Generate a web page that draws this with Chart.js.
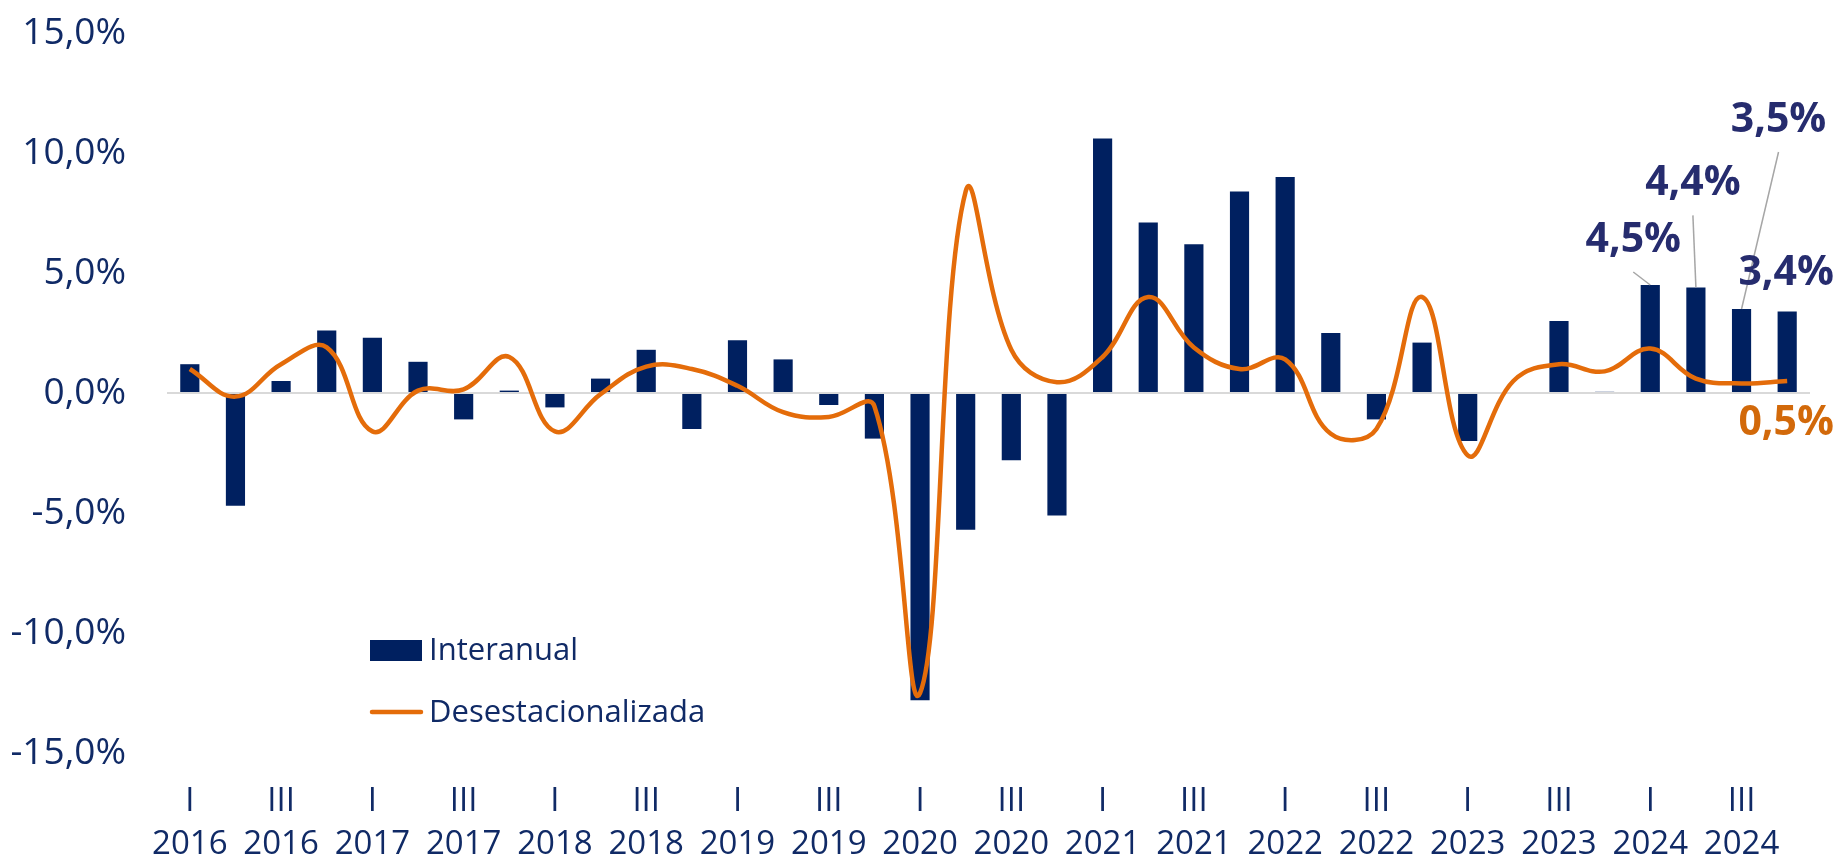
<!DOCTYPE html>
<html>
<head>
<meta charset="utf-8">
<script src="https://cdn.jsdelivr.net/npm/chart.js@4.4.1/dist/chart.umd.min.js"></script>
<style>
  html, body { margin: 0; padding: 0; background: #ffffff; }
  #wrap { width: 1841px; height: 864px; position: relative; }
</style>
</head>
<body>
<div id="wrap"><canvas id="chart_pib"></canvas></div>
<script>
// categories: quarters 2016 I .. 2024 IV
const categories = [
  "I 2016", "II 2016", "III 2016", "IV 2016",
  "I 2017", "II 2017", "III 2017", "IV 2017",
  "I 2018", "II 2018", "III 2018", "IV 2018",
  "I 2019", "II 2019", "III 2019", "IV 2019",
  "I 2020", "II 2020", "III 2020", "IV 2020",
  "I 2021", "II 2021", "III 2021", "IV 2021",
  "I 2022", "II 2022", "III 2022", "IV 2022",
  "I 2023", "II 2023", "III 2023", "IV 2023",
  "I 2024", "II 2024", "III 2024", "IV 2024",
];

// variación interanual (%)
const interanual = [
  1.2, -4.7, 0.5, 2.6,
  2.3, 1.3, -1.1, 0.1,
  -0.6, 0.6, 1.8, -1.5,
  2.2, 1.4, -0.5, -1.9,
  -12.8, -5.7, -2.8, -5.1,
  10.6, 7.1, 6.2, 8.4,
  9.0, 2.5, -1.1, 2.1,
  -2.0, 0.0, 3.0, 0.05,
  4.5, 4.4, 3.5, 3.4,
];

// variación trimestral desestacionalizada (%)
const desestacionalizada = [
  1.0, -0.15, 1.2, 1.9,
  -1.6, 0.1, 0.15, 1.5,
  -1.6, -0.05, 1.1, 1.0,
  0.3, -0.8, -1.0, -0.55,
  -12.5, 8.4, 1.8, 0.45,
  1.5, 4.0, 1.9, 1.0,
  1.4, -1.7, -1.5, 4.0,
  -2.6, 0.5, 1.2, 0.9,
  1.85, 0.6, 0.4, 0.5,
];

const yTicks = [-15, -10, -5, 0, 5, 10, 15];

// labelled points at the end of the series
const barLabelIdx = [32, 33, 34, 35];
const lineLabelIdx = [35];

const NAVY = "#002060";
const TEXT = "#102a66";
const ORANGE = "#e46c0a";
const FONT = "'Open Sans', 'Noto Sans', sans-serif";

function pct(v) {
  return v.toFixed(1).replace(".", ",") + "%";
}

// label offsets from the bar top: [dx, dy, leader line]
const barLabelPos = {
  32: [-17, -45, true],
  33: [-3, -104, true],
  34: [37, -189, true],
  35: [-1, -38, false],
};

const labelsPlugin = {
  id: "etiquetas",
  afterDatasetsDraw(chart) {
    const ctx = chart.ctx;
    const xs = chart.scales.x;
    const ys = chart.scales.y;
    ctx.save();
    ctx.font = "bold 41px " + FONT;
    ctx.textAlign = "center";
    ctx.textBaseline = "middle";

    barLabelIdx.forEach(function (i) {
      const px = xs.getPixelForValue(i);
      const py = ys.getPixelForValue(interanual[i]);
      const [dx, dy, leader] = barLabelPos[i];
      const lx = px + dx;
      const ly = py + dy;
      if (leader) {
        ctx.strokeStyle = "#a6a6a6";
        ctx.lineWidth = 1.5;
        ctx.beginPath();
        ctx.moveTo(lx, ly + 32);
        ctx.lineTo(px, py);
        ctx.stroke();
      }
      ctx.fillStyle = "#262c6e";
      ctx.fillText(pct(interanual[i]), lx, ly);
    });

    lineLabelIdx.forEach(function (i) {
      const px = xs.getPixelForValue(i);
      const py = ys.getPixelForValue(desestacionalizada[i]);
      ctx.fillStyle = "#d2690a";
      ctx.fillText(pct(desestacionalizada[i]), px - 1, py + 42);
    });
    ctx.restore();
  },
  afterDraw(chart) {
    // legend inside the plot, bottom left
    const ctx = chart.ctx;
    ctx.save();
    ctx.font = "31px " + FONT;
    ctx.textBaseline = "middle";
    ctx.textAlign = "left";
    ctx.fillStyle = NAVY;
    ctx.fillRect(370, 640, 52, 21);
    ctx.fillStyle = TEXT;
    ctx.fillText("Interanual", 429, 651);

    ctx.strokeStyle = ORANGE;
    ctx.lineWidth = 4.5;
    ctx.lineCap = "round";
    ctx.beginPath();
    ctx.moveTo(372, 712);
    ctx.lineTo(421, 712);
    ctx.stroke();
    ctx.fillStyle = TEXT;
    ctx.fillText("Desestacionalizada", 429, 713);
    ctx.restore();
  },
};

document.addEventListener("DOMContentLoaded", function () {
  const canvas = document.getElementById("chart_pib");

  new Chart(canvas, {
    type: "bar",
    data: {
      labels: categories,
      datasets: [
        {
          type: "line",
          label: "Desestacionalizada",
          data: desestacionalizada,
          borderColor: ORANGE,
          backgroundColor: ORANGE,
          borderWidth: 4.5,
          pointRadius: 0,
          tension: 0.4,
          order: 0,
        },
        {
          type: "bar",
          label: "Interanual",
          data: interanual,
          backgroundColor: NAVY,
          borderWidth: 0,
          categoryPercentage: 1,
          barPercentage: 0.42,
          order: 1,
        },
      ],
    },
    options: {
      responsive: true,
      maintainAspectRatio: false,
      animation: false,
      layout: {
        padding: { top: 33, right: 31, bottom: 0, left: 0 },
      },
      plugins: {
        legend: { display: false },
        tooltip: { enabled: false },
      },
      scales: {
        x: {
          offset: true,
          grid: { display: false, drawTicks: false },
          border: { display: false },
          afterFit: function (s) {
            s.height = 111;
          },
          ticks: {
            autoSkip: false,
            maxRotation: 0,
            padding: 27,
            color: TEXT,
            font: { family: FONT, size: 33, lineHeight: 1.3 },
            callback: function (value, index) {
              const parts = categories[index].split(" ");
              if (parts[0] === "I" || parts[0] === "III") return parts;
              return null;
            },
          },
        },
        y: {
          min: -15,
          max: 15,
          afterFit: function (s) {
            s.width = 167;
          },
          afterBuildTicks: function (s) {
            s.ticks = yTicks.map(function (v) {
              return { value: v };
            });
          },
          grid: {
            drawTicks: true,
            tickLength: 41,
            tickColor: "rgba(0,0,0,0)",
            lineWidth: 2,
            color: function (c) {
              return c.tick && c.tick.value === 0 ? "#d9d9d9" : "rgba(0,0,0,0)";
            },
          },
          border: { display: false },
          ticks: {
            padding: 0,
            color: TEXT,
            font: { family: FONT, size: 37 },
            callback: function (v) {
              return pct(v);
            },
          },
        },
      },
    },
    plugins: [labelsPlugin],
  });
});
</script>
</body>
</html>
